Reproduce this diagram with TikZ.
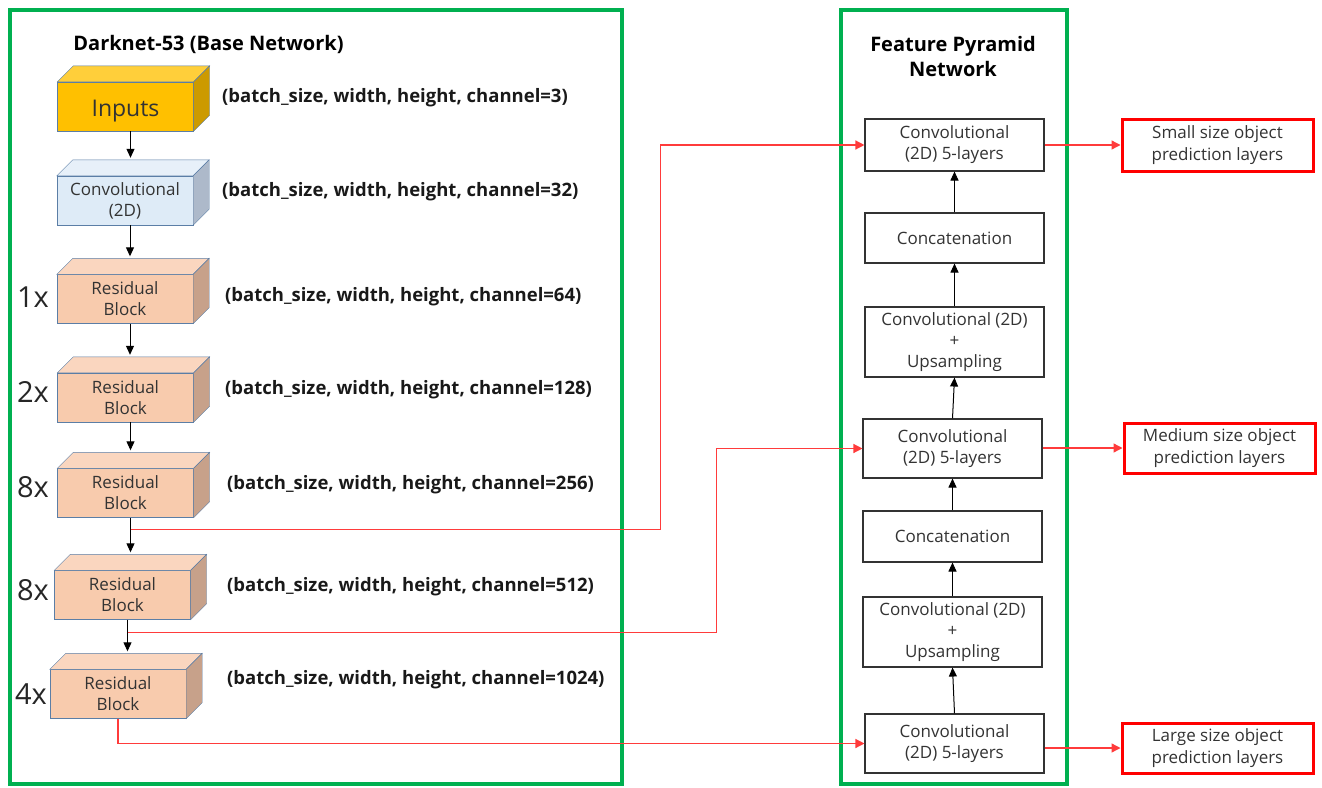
\documentclass[tikz,border=0pt]{standalone}
\usepackage{fontspec}
\setmainfont{Open Sans}
\usetikzlibrary{arrows.meta,calc}

\definecolor{frameGreen}{HTML}{00B050}
\definecolor{edgeBlue}{HTML}{5B7EA6}
\definecolor{inFront}{HTML}{FFC000}
\definecolor{inTop}{HTML}{FFCF3A}
\definecolor{inSide}{HTML}{CC9A00}
\definecolor{convFront}{HTML}{DEEBF7}
\definecolor{convTop}{HTML}{E7F0F9}
\definecolor{convSide}{HTML}{ADB9CA}
\definecolor{resFront}{HTML}{F8CBAD}
\definecolor{resTop}{HTML}{FAD6BF}
\definecolor{resSide}{HTML}{C7A18A}
\definecolor{txtGray}{HTML}{333333}
\definecolor{linkRed}{HTML}{FF3B3B}

% top and side faces of a block whose front is node #1
\newcommand{\blockfaces}[3]{%
  \filldraw[fill=#2,draw=edgeBlue] (#1.north west) -- ++(16,-16) -- ($(#1.north east)+(16,-16)$) -- (#1.north east) -- cycle;
  \filldraw[fill=#3,draw=edgeBlue] (#1.north east) -- ++(16,-16) -- ($(#1.south east)+(16,-16)$) -- (#1.south east) -- cycle;
  \coordinate (#1-top) at ($(#1.north)+(5,-18)$);
  \coordinate (#1-bot) at ($(#1.south)+(5,0)$);
}

\tikzset{
  frame/.style={draw=frameGreen, line width=4pt},
  title/.style={font=\fontsize{20}{25}\selectfont\bfseries, align=center},
  block/.style={draw=edgeBlue, minimum width=136pt, minimum height=49pt, inner sep=0pt,
    align=center, text=txtGray, font=\fontsize{17}{21}\selectfont},
  dims/.style={anchor=west, inner xsep=0pt, font=\fontsize{18.5}{20}\selectfont\bfseries, text=black!90},
  times/.style={anchor=east, inner xsep=0pt, font=\fontsize{29}{30}\selectfont, text=black!85},
  layer/.style={draw=txtGray, line width=1.1pt, fill=white, minimum width=179pt, inner sep=0pt,
    align=center, text=txtGray, font=\fontsize{17}{21}\selectfont},
  outbox/.style={draw=red, line width=3pt, minimum width=191pt, minimum height=50pt, inner sep=0pt,
    align=center, text=txtGray, font=\fontsize{17}{22}\selectfont},
  arr/.style={-{Triangle[length=9pt,width=8pt]}, line width=1pt},
  redarr/.style={-{Triangle[length=9pt,width=9pt]}, draw=linkRed, line width=1.3pt},
}

\begin{document}
\begin{tikzpicture}[x=1pt,y=-1pt]
\useasboundingbox (0,0) rectangle (1322,787);

\draw[frame] (10,10) rectangle (622,784);
\draw[frame] (841,10) rectangle (1067,784);

\node[title] (dnTitle) at (208.5,44) {Darknet-53 (Base Network)};
\node[title] (fpnTitle) at (953,56) {Feature Pyramid\\Network};

% backbone
\node[block, fill=inFront, font=\fontsize{23}{23}\selectfont] (inputs) at (125.5,106.5) {\raisebox{-9.5pt}[0pt][0pt]{Inputs}};
\blockfaces{inputs}{inTop}{inSide}
\node[block, fill=convFront] (conv) at (125,200.5) {Convolutional\\(2D)};
\blockfaces{conv}{convTop}{convSide}
\node[block, fill=resFront] (res1) at (125,299) {Residual\\Block};
\blockfaces{res1}{resTop}{resSide}
\node[block, fill=resFront] (res2) at (125.5,397.5) {Residual\\Block};
\blockfaces{res2}{resTop}{resSide}
\node[block, fill=resFront] (res3) at (125.5,493) {Residual\\Block};
\blockfaces{res3}{resTop}{resSide}
\node[block, fill=resFront] (res4) at (122.5,595) {Residual\\Block};
\blockfaces{res4}{resTop}{resSide}
\node[block, fill=resFront] (res5) at (118,694) {Residual\\Block};
\blockfaces{res5}{resTop}{resSide}

\node[times] (n1) at (49,297) {1x};
\node[times] (n2) at (49,392) {2x};
\node[times] (n3) at (49,487) {8x};
\node[times] (n4) at (49,590) {8x};
\node[times] (n5) at (47,694) {4x};

\node[dims] (d0) at (222,98) {(batch\_size, width, height, channel=3)};
\node[dims] (d1) at (222,192) {(batch\_size, width, height, channel=32)};
\node[dims] (d2) at (225,297) {(batch\_size, width, height, channel=64)};
\node[dims] (d3) at (225,390) {(batch\_size, width, height, channel=128)};
\node[dims] (d4) at (227,485) {(batch\_size, width, height, channel=256)};
\node[dims] (d5) at (227,587) {(batch\_size, width, height, channel=512)};
\node[dims] (d6) at (227,680) {(batch\_size, width, height, channel=1024)};

\draw[arr] (inputs-bot) -- (inputs-bot |- conv-top);
\draw[arr] (conv-bot) -- (conv-bot |- res1-top);
\draw[arr] (res1-bot) -- (res1-bot |- res2-top);
\draw[arr] (res2-bot) -- (res2-bot |- res3-top);
\draw[arr] (res3-bot) -- (res3-bot |- res4-top);
\draw[arr] (res4-bot) -- (res4-bot |- res5-top);

% feature pyramid
\node[layer, minimum height=52pt] (fpnTop) at (954.5,145) {Convolutional\\(2D) 5-layers};
\node[layer, minimum height=50pt] (cat1) at (954.5,238) {Concatenation};
\node[layer, minimum height=70pt] (up1) at (954.5,342) {Convolutional (2D)\\+\\Upsampling};
\node[layer, minimum height=59pt] (fpnMid) at (952.5,448.5) {Convolutional\\(2D) 5-layers};
\node[layer, minimum height=51pt] (cat2) at (952.5,536.5) {Concatenation};
\node[layer, minimum height=70pt] (up2) at (952.5,632) {Convolutional (2D)\\+\\Upsampling};
\node[layer, minimum height=59pt] (fpnBot) at (954.5,743.5) {Convolutional\\(2D) 5-layers};

\draw[arr] (fpnBot.north) -- (up2.south);
\draw[arr] (up2.north) -- (cat2.south);
\draw[arr] (cat2.north) -- (fpnMid.south);
\draw[arr] (fpnMid.north) -- (up1.south);
\draw[arr] (up1.north) -- (cat1.south);
\draw[arr] (cat1.north) -- (fpnTop.south);

% outputs
\node[outbox, minimum height=52pt] (outS) at (1217.5,145) {Small size object\\prediction layers};
\node[outbox] (outM) at (1219.5,448) {Medium size object\\prediction layers};
\node[outbox] (outL) at (1217.5,748) {Large size object\\prediction layers};

\draw[redarr] (fpnTop.east |- outS.west) -- (outS.west);
\draw[redarr] (fpnMid.east |- outM.west) -- (outM.west);
\draw[redarr] (fpnBot.east |- outL.west) -- (outL.west);

% skip links into the pyramid
\coordinate (tapA) at ($(res3-bot)+(0,12)$);
\coordinate (tapB) at ($(res4-bot)+(0,13)$);
\draw[redarr] (tapA) -| ($(fpnTop.west)+(-204,0)$) -- (fpnTop.west);
\draw[redarr] (tapB) -| ($(fpnMid.west)+(-146,0)$) -- (fpnMid.west);
\draw[redarr] (res5.south) |- (fpnBot.west);
\end{tikzpicture}
\end{document}
